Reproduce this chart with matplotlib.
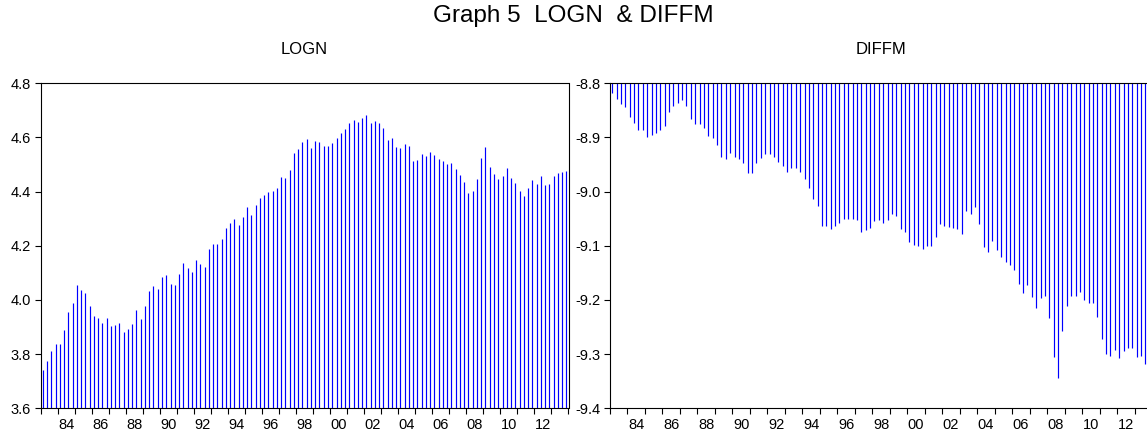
import numpy as np
import matplotlib
matplotlib.use("Agg")
import matplotlib.pyplot as plt
from matplotlib.ticker import FixedLocator, NullFormatter, FixedFormatter

plt.rcParams['font.family'] = ['Liberation Sans', 'DejaVu Sans']

# quarterly data 1983Q1 - 2013Q4
start_year = 1983
logn = [3.740, 3.774, 3.812, 3.839, 3.839, 3.890, 3.956, 3.990,
        4.056, 4.038, 4.025, 3.976, 3.942, 3.933, 3.914, 3.935,
        3.903, 3.907, 3.914, 3.882, 3.894, 3.912, 3.962, 3.930,
        3.976, 4.034, 4.051, 4.042, 4.086, 4.093, 4.060, 4.056,
        4.095, 4.136, 4.119, 4.104, 4.147, 4.131, 4.122, 4.188,
        4.206, 4.206, 4.226, 4.265, 4.285, 4.298, 4.278, 4.306,
        4.343, 4.314, 4.350, 4.376, 4.387, 4.399, 4.401, 4.414,
        4.454, 4.449, 4.479, 4.542, 4.557, 4.585, 4.594, 4.560,
        4.587, 4.584, 4.568, 4.567, 4.578, 4.597, 4.616, 4.631,
        4.653, 4.666, 4.657, 4.672, 4.683, 4.655, 4.660, 4.652,
        4.635, 4.589, 4.598, 4.565, 4.561, 4.576, 4.567, 4.513,
        4.516, 4.539, 4.533, 4.545, 4.535, 4.519, 4.514, 4.502,
        4.506, 4.482, 4.460, 4.436, 4.394, 4.402, 4.447, 4.523,
        4.565, 4.492, 4.464, 4.448, 4.456, 4.487, 4.450, 4.432,
        4.402, 4.385, 4.413, 4.442, 4.427, 4.456, 4.425, 4.429,
        4.456, 4.469, 4.471, 4.476]

diffm = [-8.818, -8.829, -8.838, -8.844, -8.863, -8.874, -8.887, -8.886,
         -8.899, -8.896, -8.891, -8.887, -8.879, -8.853, -8.842, -8.837,
         -8.831, -8.842, -8.866, -8.875, -8.876, -8.883, -8.898, -8.901,
         -8.913, -8.936, -8.939, -8.929, -8.936, -8.939, -8.948, -8.966,
         -8.965, -8.948, -8.938, -8.930, -8.931, -8.936, -8.945, -8.953,
         -8.963, -8.956, -8.956, -8.963, -8.977, -8.993, -9.013, -9.027,
         -9.064, -9.064, -9.069, -9.064, -9.057, -9.051, -9.051, -9.051,
         -9.052, -9.074, -9.071, -9.067, -9.055, -9.052, -9.058, -9.053,
         -9.042, -9.045, -9.069, -9.075, -9.093, -9.098, -9.100, -9.106,
         -9.100, -9.100, -9.083, -9.060, -9.064, -9.065, -9.067, -9.069,
         -9.078, -9.036, -9.041, -9.029, -9.060, -9.102, -9.112, -9.091,
         -9.107, -9.120, -9.130, -9.136, -9.144, -9.170, -9.187, -9.173,
         -9.194, -9.215, -9.197, -9.192, -9.233, -9.306, -9.344, -9.257,
         -9.212, -9.192, -9.192, -9.186, -9.200, -9.205, -9.205, -9.231,
         -9.272, -9.299, -9.304, -9.293, -9.307, -9.294, -9.289, -9.289,
         -9.306, -9.304, -9.318, -9.310]

logn_ticks = [3.6, 3.8, 4.0, 4.2, 4.4, 4.6, 4.8]
diffm_ticks = [-9.4, -9.3, -9.2, -9.1, -9.0, -8.9, -8.8]

n = len(logn)
t = start_year + (np.arange(n) + 0.5) / 4.0
end_year = start_year + n // 4

W, H = 1147, 438
fig = plt.figure(figsize=(W / 100, H / 100), dpi=100)

def px_axes(x0, x1, ytop, ybot):
    return fig.add_axes([x0 / W, 1 - ybot / H, (x1 - x0) / W, (ybot - ytop) / H])

ax1 = px_axes(40.7, 568.5, 83.3, 408.3)
ax2 = px_axes(610.0, 1152.0, 83.3, 408.3)   # right edge runs past the picture

blue = '#0000FF'
ax1.vlines(t, logn_ticks[0], logn, color=blue, lw=0.85)
ax2.vlines(t, diffm, diffm_ticks[-1], color=blue, lw=0.85)

def style(ax, yt, fmt):
    ax.set_xlim(start_year, end_year)
    ax.set_ylim(yt[0], yt[-1])
    ax.set_yticks(yt)
    ax.set_yticklabels([fmt % v for v in yt])
    ax.xaxis.set_major_locator(FixedLocator(np.arange(start_year, end_year + 1)))
    ax.xaxis.set_major_formatter(NullFormatter())
    lab_years = np.arange(1984, end_year, 2)
    ax.xaxis.set_minor_locator(FixedLocator(lab_years + 0.5))
    ax.xaxis.set_minor_formatter(FixedFormatter(['%02d' % (y % 100) for y in lab_years]))
    ax.tick_params(axis='x', which='major', direction='out', length=4.5, width=0.8)
    ax.tick_params(axis='x', which='minor', length=0, pad=7, labelsize=10.5)
    ax.tick_params(axis='y', direction='out', length=4.5, width=0.8, pad=2.5, labelsize=10.5)
    for s in ax.spines.values():
        s.set_linewidth(0.8)

style(ax1, logn_ticks, '%.1f')
style(ax2, diffm_ticks, '%.1f')

fig.text(0.5, 1 - 16 / H, 'Graph 5  LOGN  & DIFFM', ha='center', va='center', fontsize=17.5)
fig.text(304 / W, 1 - 49 / H, 'LOGN', ha='center', va='center', fontsize=12)
fig.text(881 / W, 1 - 49 / H, 'DIFFM', ha='center', va='center', fontsize=12)

fig.savefig('out.png', dpi=100)
